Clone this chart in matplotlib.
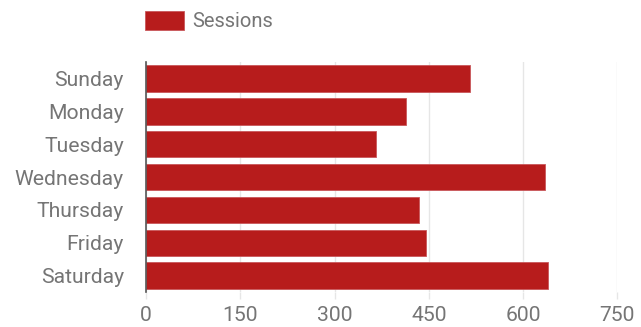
import matplotlib.pyplot as plt

days = ['Sunday', 'Monday', 'Tuesday', 'Wednesday', 'Thursday', 'Friday', 'Saturday']
sessions = [516, 414, 366, 635, 434, 445, 640]
xticks = [0, 150, 300, 450, 600, 750]

plt.rcParams['font.family'] = ['Roboto', 'DejaVu Sans']
red = '#b71c1c'
grey = '#757575'

fig = plt.figure(figsize=(6.41, 3.27), dpi=100)
ax = fig.add_axes([0.2278, 0.107, 0.7355, 0.703])

ypos = range(len(days))
ax.barh(ypos, sessions, height=0.8, color=red, edgecolor='#c9575a', linewidth=0.6,
        label='Sessions', zorder=3)
ax.set_ylim(len(days) - 0.5, -0.5)
ax.set_xlim(0, 750)
ax.set_yticks(list(ypos))
ax.set_yticklabels(days)
ax.set_xticks(xticks)
ax.set_xticklabels([str(t) for t in xticks])

ax.grid(axis='x', color='#e6e6e6', linewidth=1, zorder=0)
for s in ['top', 'right', 'bottom']:
    ax.spines[s].set_visible(False)
ax.spines['left'].set_color('#555555')
ax.spines['left'].set_linewidth(1.2)
ax.spines['left'].set_zorder(4)

ax.tick_params(axis='y', length=0, pad=16, labelsize=15.2, labelcolor=grey)
ax.tick_params(axis='x', length=5, width=1, color='#e6e6e6', pad=5,
               labelsize=15.2, labelcolor=grey)

fs = 14.5
px = fs * 100 / 72
leg = fig.legend(loc='upper left', bbox_to_anchor=(145 / 641, 1 - 11 / 327), frameon=False,
                 borderpad=0, borderaxespad=0,
                 handlelength=39 / px, handleheight=21 / px,
                 handletextpad=0.4, fontsize=fs)
for t in leg.get_texts():
    t.set_color(grey)

fig.savefig('out.png', dpi=100)
